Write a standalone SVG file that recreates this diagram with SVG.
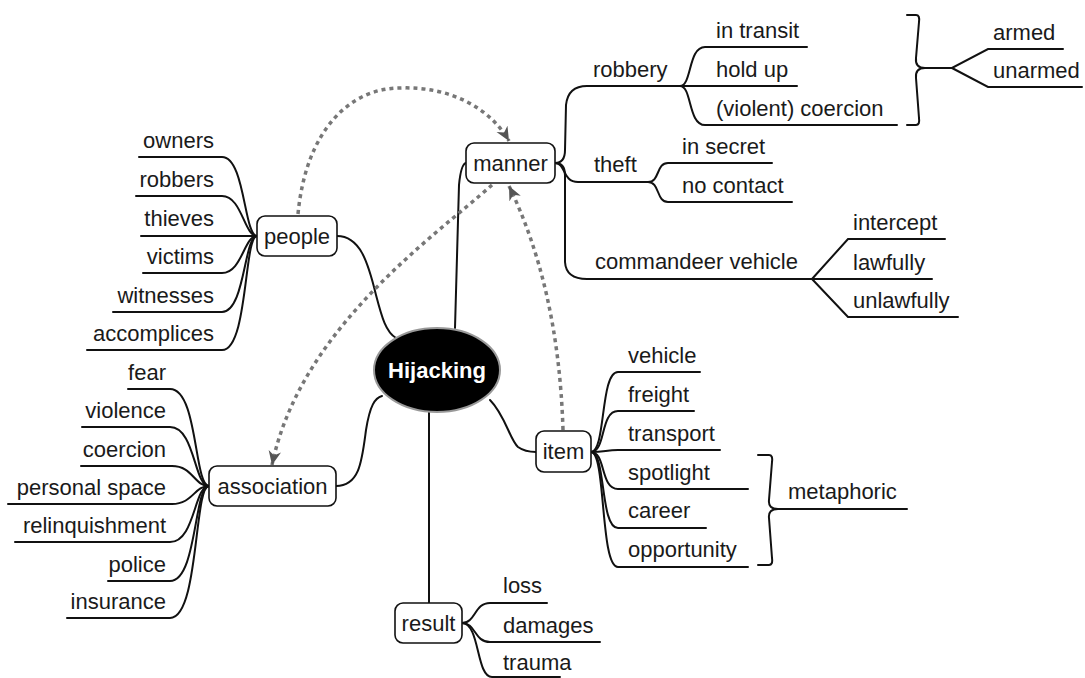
<svg xmlns="http://www.w3.org/2000/svg" width="1085" height="678" viewBox="0 0 1085 678">
  <style>
    text { font-family: "Liberation Sans", Arial, sans-serif; font-size: 22px; fill: #1a1a1a; }
    .end { text-anchor: end; }
    .mid { text-anchor: middle; }
    .line { fill: none; stroke: #111; stroke-width: 2; stroke-linecap: round; }
    .dash { fill: none; stroke: #777; stroke-width: 3.5; stroke-dasharray: 4 4; }
    .box { fill: #fff; stroke: #111; stroke-width: 1.6; }
  </style>
  <defs>
    <marker id="tip" viewBox="0 0 10 10" refX="10" refY="5" markerWidth="14" markerHeight="14" markerUnits="userSpaceOnUse" orient="auto">
      <path d="M0,0.5 L10,5 L0,9.5 L3,5 z" fill="#555"/>
    </marker>
  </defs>
  <rect width="1085" height="678" fill="#fff"/>

  <!-- branch lines -->
  <g id="connectors">
    <!-- centre to main topics -->
    <path class="line" d="M455,328 L459,185 Q461,164 466,163"/>
    <path class="line" d="M337,236 C360,236 368,262 376,295 C382,318 386,332 396,338"/>
    <path class="line" d="M336,486 C360,486 362,460 366,430 C370,405 375,398 382,396"/>
    <path class="line" d="M490,400 C505,415 510,440 518,447 Q525,452 536,452"/>
    <path class="line" d="M429,412 L429,603"/>

    <!-- manner -->
    <path class="line" d="M555,163 Q565,163 565,150 L566,105 Q568,86 587,86 L680,86"/>
    <path class="line" d="M555,163 C566,163 562,182 578,182 L648,182"/>
    <path class="line" d="M555,163 Q565,163 565,175 L565,262 Q566,279 587,279 L812,279"/>
    <!-- robbery -->
    <path class="line" d="M680,86 C692,86 688,47 705,47 L807,47"/>
    <path class="line" d="M680,86 L797,86"/>
    <path class="line" d="M680,86 C692,86 688,125 705,125 L897,125"/>
    <!-- theft -->
    <path class="line" d="M648,182 C660,182 656,163 668,163 L772,163"/>
    <path class="line" d="M648,182 C660,182 656,202 668,202 L792,202"/>
    <!-- commandeer vehicle -->
    <path class="line" d="M812,279 L848,239 L945,239"/>
    <path class="line" d="M812,279 L932,279"/>
    <path class="line" d="M812,279 L848,317 L958,317"/>
    <!-- robbery bracket -->
    <path class="line" d="M907,15 L916,15 Q920,15 919,22 L916,58 Q915,68 925,68 Q915,68 916,78 L919,118 Q920,125 916,125 L907,125"/>
    <path class="line" d="M925,68 L952,68 L988,49 L1063,49"/>
    <path class="line" d="M952,68 L988,87 L1082,87"/>

    <!-- people -->
    <path class="line" d="M139,157 L222,157 C245,157 244,236 257,236"/>
    <path class="line" d="M136,196 L222,196 C242,196 244,236 257,236"/>
    <path class="line" d="M141,236 L257,236"/>
    <path class="line" d="M143,273 L222,273 C242,273 244,236 257,236"/>
    <path class="line" d="M113,312 L222,312 C245,312 244,236 257,236"/>
    <path class="line" d="M87,350 L222,350 C248,350 244,236 257,236"/>

    <!-- association -->
    <path class="line" d="M128,389 L170,389 C198,389 194,486 209,486"/>
    <path class="line" d="M82,427 L170,427 C195,427 194,486 209,486"/>
    <path class="line" d="M81,466 L172,466 C193,466 194,486 209,486"/>
    <path class="line" d="M8,504 L172,504 C193,504 194,486 209,486"/>
    <path class="line" d="M15,542 L170,542 C195,542 194,486 209,486"/>
    <path class="line" d="M108,581 L170,581 C197,581 194,486 209,486"/>
    <path class="line" d="M67,618 L170,618 C199,618 194,486 209,486"/>

    <!-- item -->
    <path class="line" d="M591,452 C606,452 600,372 618,372 L700,372"/>
    <path class="line" d="M591,452 C606,452 600,411 618,411 L694,411"/>
    <path class="line" d="M591,452 C605,452 606,450 618,450 L720,450"/>
    <path class="line" d="M591,452 C606,452 600,489 618,489 L748,489"/>
    <path class="line" d="M591,452 C606,452 600,528 618,528 L706,528"/>
    <path class="line" d="M591,452 C606,452 600,567 618,567 L748,567"/>
    <!-- metaphoric bracket -->
    <path class="line" d="M758,455 L769,455 Q773,455 772,462 L769,500 Q768,509 778,509 Q768,509 769,518 L772,558 Q773,565 769,565 L758,565"/>
    <path class="line" d="M778,509 L907,509"/>

    <!-- result -->
    <path class="line" d="M462,623 C476,623 474,603 490,603 L547,603"/>
    <path class="line" d="M462,623 C476,623 474,642 490,642 L600,642"/>
    <path class="line" d="M462,623 C480,623 476,677 492,677 L560,677"/>

    <!-- relationship links -->
    <path class="dash" d="M298,214 C306,130 350,88 400,88 C450,86 490,108 509,141" marker-end="url(#tip)"/>
    <path class="dash" d="M492,185 C430,240 300,330 272,465" marker-end="url(#tip)"/>
    <path class="dash" d="M563,430 C560,330 540,250 509,186" marker-end="url(#tip)"/>
  </g>

  <g id="hijacking">
    <ellipse cx="437" cy="370" rx="63" ry="42" fill="#000" stroke="#999" stroke-width="2"/>
    <text x="437" y="378" class="mid" style="font-weight:bold; fill:#fff">Hijacking</text>
  </g>

  <g id="manner">
    <rect class="box" x="466" y="143" width="89" height="40" rx="8"/>
    <text x="510.5" y="171" class="mid">manner</text>
  </g>
  <g id="robbery"><text x="593" y="77">robbery</text></g>
  <g id="in-transit"><text x="716" y="38">in transit</text></g>
  <g id="hold-up"><text x="716" y="77">hold up</text></g>
  <g id="violent-coercion"><text x="716" y="116">(violent) coercion</text></g>
  <g id="armed"><text x="993" y="40">armed</text></g>
  <g id="unarmed"><text x="993" y="78">unarmed</text></g>
  <g id="theft"><text x="594" y="172">theft</text></g>
  <g id="in-secret"><text x="682" y="154">in secret</text></g>
  <g id="no-contact"><text x="682" y="193">no contact</text></g>
  <g id="commandeer-vehicle"><text x="595" y="269">commandeer vehicle</text></g>
  <g id="intercept"><text x="853" y="230">intercept</text></g>
  <g id="lawfully"><text x="853" y="270">lawfully</text></g>
  <g id="unlawfully"><text x="853" y="308">unlawfully</text></g>

  <g id="people">
    <rect class="box" x="257" y="216" width="80" height="40" rx="8"/>
    <text x="297" y="244" class="mid">people</text>
  </g>
  <g id="owners"><text x="214" y="148" class="end">owners</text></g>
  <g id="robbers"><text x="214" y="187" class="end">robbers</text></g>
  <g id="thieves"><text x="214" y="226" class="end">thieves</text></g>
  <g id="victims"><text x="214" y="264" class="end">victims</text></g>
  <g id="witnesses"><text x="214" y="303" class="end">witnesses</text></g>
  <g id="accomplices"><text x="214" y="341" class="end">accomplices</text></g>

  <g id="association">
    <rect class="box" x="209" y="466" width="127" height="40" rx="8"/>
    <text x="272.5" y="494" class="mid">association</text>
  </g>
  <g id="fear"><text x="166" y="380" class="end">fear</text></g>
  <g id="violence"><text x="166" y="418" class="end">violence</text></g>
  <g id="coercion"><text x="166" y="457" class="end">coercion</text></g>
  <g id="personal-space"><text x="166" y="495" class="end">personal space</text></g>
  <g id="relinquishment"><text x="166" y="533" class="end">relinquishment</text></g>
  <g id="police"><text x="166" y="572" class="end">police</text></g>
  <g id="insurance"><text x="166" y="609" class="end">insurance</text></g>

  <g id="item">
    <rect class="box" x="536" y="431" width="55" height="41" rx="8"/>
    <text x="563.5" y="459" class="mid">item</text>
  </g>
  <g id="vehicle"><text x="628" y="363">vehicle</text></g>
  <g id="freight"><text x="628" y="402">freight</text></g>
  <g id="transport"><text x="628" y="441">transport</text></g>
  <g id="spotlight"><text x="628" y="480">spotlight</text></g>
  <g id="career"><text x="628" y="518">career</text></g>
  <g id="opportunity"><text x="628" y="557">opportunity</text></g>
  <g id="metaphoric"><text x="788" y="499">metaphoric</text></g>

  <g id="result">
    <rect class="box" x="395" y="603" width="67" height="40" rx="8"/>
    <text x="428.5" y="631" class="mid">result</text>
  </g>
  <g id="loss"><text x="503" y="593">loss</text></g>
  <g id="damages"><text x="503" y="633">damages</text></g>
  <g id="trauma"><text x="503" y="670">trauma</text></g>
</svg>
